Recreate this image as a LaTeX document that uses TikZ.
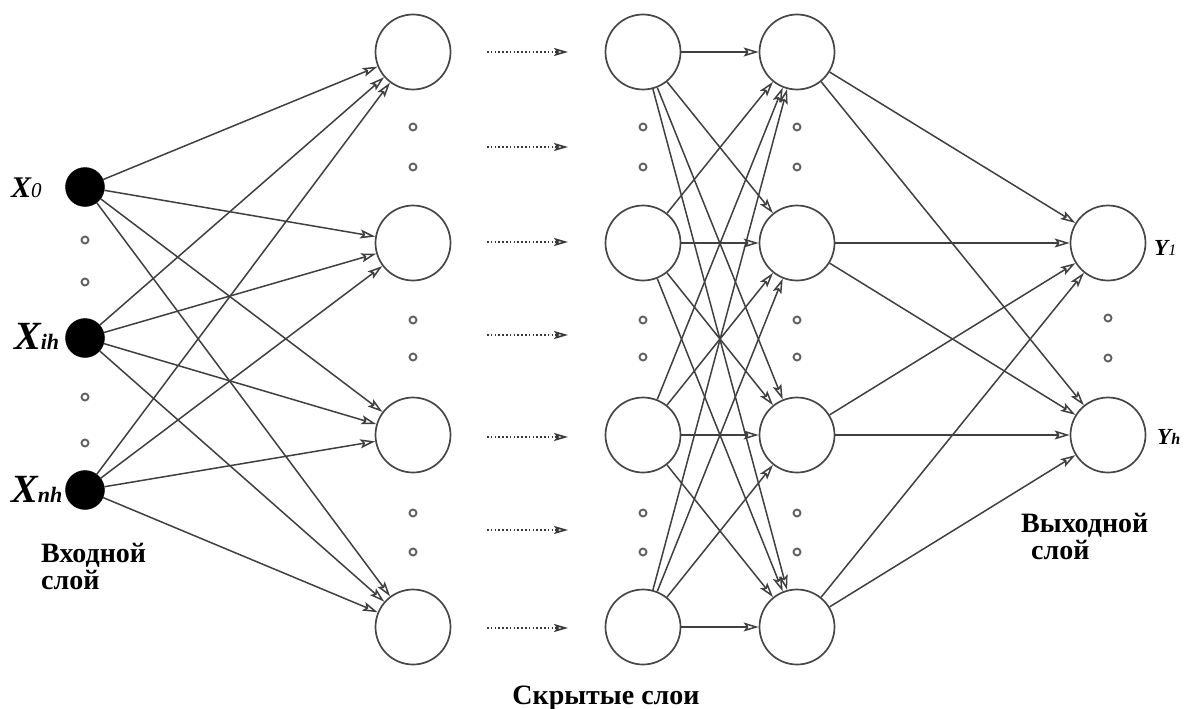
\documentclass[tikz,border=0pt]{standalone}
\usepackage{fontspec}
\setmainfont{Liberation Serif}
\usetikzlibrary{arrows.meta}
\begin{document}
\begin{tikzpicture}[x=1pt,y=-1pt,
  inp/.style={circle,fill=black,draw=black,minimum size=39pt,inner sep=0pt},
  hid/.style={circle,fill=white,draw=black!72,line width=1.7pt,minimum size=75pt,inner sep=0pt},
  edge/.style={draw=black!75,line width=1.5pt,-{Stealth[open,length=15pt,width=9pt,inset=3pt]}},
  dotarrow/.style={draw=black!78,line width=1.6pt,dash pattern=on 1.6pt off 2.2pt,-{Stealth[open,length=14pt,width=8pt,inset=3pt]}},
  sdot/.style={circle,draw=black!62,line width=1.9pt,minimum size=7pt,inner sep=0pt},
  lbl/.style={font=\fontsize{28}{30}\selectfont\bfseries,inner sep=0pt},
]
\useasboundingbox (0,0) rectangle (1187,709);
\fill[white] (0,0) rectangle (1187,709);

% nodes
\node[inp] (i1) at (85,187) {};
\node[inp] (i2) at (85,338) {};
\node[inp] (i3) at (85,490) {};
\foreach \n/\y in {1/52,2/243,3/435,4/627}{
  \node[hid] (a\n) at (413,\y) {};
  \node[hid] (b\n) at (643,\y) {};
  \node[hid] (c\n) at (797,\y) {};
}
\node[hid] (o1) at (1108,243) {};
\node[hid] (o2) at (1108,435) {};

% edges
\foreach \i in {1,2,3}{\foreach \j in {1,...,4}{\draw[edge] (i\i) -- (a\j);}}
\foreach \i in {1,...,4}{\foreach \j in {1,...,4}{\draw[edge] (b\i) -- (c\j);}}
\foreach \i in {1,...,4}{\foreach \j in {1,2}{\draw[edge] (c\i) -- (o\j);}}

% dotted arrows
\foreach \k/\y in {1/52,2/147,3/242,4/335,5/437,6/530,7/628}{
  \coordinate (ds\k) at (487,\y);
  \coordinate (de\k) at (568,\y);
  \draw[dotarrow] (ds\k) -- (de\k);
}

% small dots
\foreach \k/\y in {1/240,2/282,3/397,4/443}{\node[sdot] (pi\k) at (85,\y) {};}
\foreach \k/\y in {1/127,2/167,3/320,4/357,5/513,6/552}{
  \node[sdot] (pa\k) at (413,\y) {};
  \node[sdot] (pb\k) at (643,\y) {};
  \node[sdot] (pc\k) at (797,\y) {};
}
\node[sdot] (po1) at (1108,318) {};
\node[sdot] (po2) at (1108,358) {};

% labels
\node[anchor=base west,inner sep=0pt] (lx0) at (11,197)
  {\fontsize{30}{30}\selectfont\bfseries\itshape X\fontsize{21}{21}\selectfont\mdseries 0};
\node[anchor=base west,inner sep=0pt] (lxi) at (14,349)
  {\fontsize{40}{40}\selectfont\bfseries\itshape X\fontsize{22}{22}\selectfont ih};
\node[anchor=base west,inner sep=0pt] (lxn) at (11,502)
  {\fontsize{40}{40}\selectfont\bfseries\itshape X\fontsize{22}{22}\selectfont nh};
\node[anchor=base west,inner sep=0pt] (ly1) at (1154,255)
  {\fontsize{23}{23}\selectfont\bfseries\itshape Y\fontsize{16}{16}\selectfont\mdseries 1};
\node[anchor=base west,inner sep=0pt] (lyh) at (1157,444)
  {\fontsize{23}{23}\selectfont\bfseries\itshape Y\fontsize{16}{16}\selectfont h};

\node[lbl,anchor=base west] (in1) at (41,562) {Входной};
\node[lbl,anchor=base west] (in2) at (41,589) {слой};
\node[lbl,anchor=base west] (out1) at (1021,532) {Выходной};
\node[lbl,anchor=base west] (out2) at (1031,559) {слой};
\node[lbl,anchor=base] (hidl) at (606,704) {Скрытые слои};
\end{tikzpicture}
\end{document}
